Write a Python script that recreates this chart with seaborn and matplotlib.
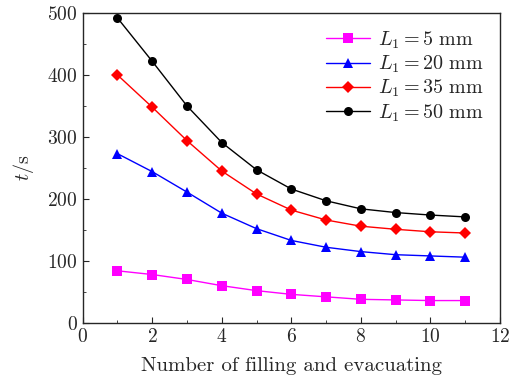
import pandas as pd
import seaborn as sns
import matplotlib.pyplot as plt
from matplotlib.ticker import MultipleLocator

cycles = [1, 2, 3, 4, 5, 6, 7, 8, 9, 10, 11]
t_5mm = [84, 78, 70, 60, 52, 46, 42, 38, 37, 36, 36]
t_20mm = [273, 244, 211, 177, 152, 133, 122, 115, 110, 108, 106]
t_35mm = [400, 348, 294, 245, 208, 182, 166, 156, 151, 147, 145]
t_50mm = [492, 422, 350, 291, 247, 216, 197, 184, 178, 174, 171]
labels = [r'$L_1 = 5\ \rm{mm}$', r'$L_1 = 20\ \rm{mm}$',
          r'$L_1 = 35\ \rm{mm}$', r'$L_1 = 50\ \rm{mm}$']

sns.set_style('ticks')
plt.rcParams['font.family'] = ['cmr10', 'DejaVu Serif']
plt.rcParams['mathtext.fontset'] = 'cm'
plt.rcParams['axes.formatter.use_mathtext'] = True

df = pd.DataFrame({
  'n': cycles * 4,
  't': t_5mm + t_20mm + t_35mm + t_50mm,
  'L': sum([[l] * len(cycles) for l in labels], []),
})

fig, ax = plt.subplots(figsize=(5.17, 3.83), dpi=100)
sns.lineplot(data=df, x='n', y='t', hue='L', style='L',
             palette=['#ff00ff', '#0000ff', '#ff0000', '#000000'],
             markers=['s', '^', 'D', 'o'], dashes=False,
             markersize=6.5, linewidth=1.0, markeredgewidth=0, ax=ax)

ax.set_xlim(0, 12)
ax.set_ylim(0, 500)
ax.xaxis.set_major_locator(MultipleLocator(2))
ax.xaxis.set_minor_locator(MultipleLocator(1))
ax.yaxis.set_major_locator(MultipleLocator(100))
ax.yaxis.set_minor_locator(MultipleLocator(50))
ax.tick_params(which='both', direction='in', labelsize=14)
ax.tick_params(which='major', length=4)
ax.tick_params(which='minor', length=2)
ax.set_xlabel('Number of filling and evacuating', fontsize=15, labelpad=8)
ax.set_ylabel(r'$t/\rm{s}$', fontsize=14.5, labelpad=8)
for s in ax.spines.values():
  s.set_linewidth(1.0)

leg = ax.legend(title=None, frameon=False, fontsize=14.5, loc='upper right',
                handlelength=2.2, handletextpad=0.4, labelspacing=0.15,
                borderaxespad=0.4)

plt.subplots_adjust(left=0.16, right=0.967, top=0.966, bottom=0.157)
plt.savefig('out.png', dpi=100)
plt.close()
